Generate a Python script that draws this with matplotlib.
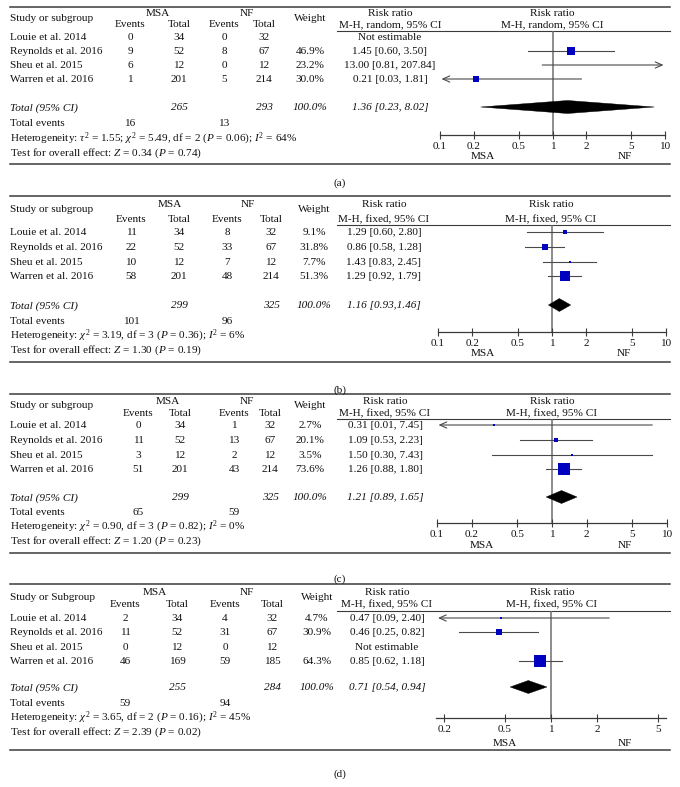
import matplotlib
matplotlib.use('Agg')
import matplotlib.pyplot as plt
from matplotlib.patches import Polygon
from matplotlib.ticker import NullLocator

plt.rcParams['font.family'] = ['Liberation Serif', 'DejaVu Serif']
plt.rcParams['mathtext.fontset'] = 'custom'
plt.rcParams['mathtext.rm'] = 'Liberation Serif'
plt.rcParams['mathtext.it'] = 'Liberation Serif:italic'
plt.rcParams['mathtext.bf'] = 'Liberation Serif:bold'

# ---------------- data ----------------
studies = ["Louie et al. 2014", "Reynolds et al. 2016", "Sheu et al. 2015", "Warren et al. 2016"]

a_msa_events = [0, 9, 6, 1]
a_msa_total = [34, 52, 12, 201]
a_nf_events = [0, 8, 0, 5]
a_nf_total = [32, 67, 12, 214]
a_weight = [None, 46.9, 23.2, 30.0]
a_rr = [None, 1.45, 13.00, 0.21]
a_lo = [None, 0.60, 0.81, 0.03]
a_hi = [None, 3.50, 207.84, 1.81]
a_totals = [265, 293]
a_total_events = [16, 13]
a_pooled = [1.36, 0.23, 8.02]

b_msa_events = [11, 22, 10, 58]
b_msa_total = [34, 52, 12, 201]
b_nf_events = [8, 33, 7, 48]
b_nf_total = [32, 67, 12, 214]
b_weight = [9.1, 31.8, 7.7, 51.3]
b_rr = [1.29, 0.86, 1.43, 1.29]
b_lo = [0.60, 0.58, 0.83, 0.92]
b_hi = [2.80, 1.28, 2.45, 1.79]
b_totals = [299, 325]
b_total_events = [101, 96]
b_pooled = [1.16, 0.93, 1.46]

c_msa_events = [0, 11, 3, 51]
c_msa_total = [34, 52, 12, 201]
c_nf_events = [1, 13, 2, 43]
c_nf_total = [32, 67, 12, 214]
c_weight = [2.7, 20.1, 3.5, 73.6]
c_rr = [0.31, 1.09, 1.50, 1.26]
c_lo = [0.01, 0.53, 0.30, 0.88]
c_hi = [7.45, 2.23, 7.43, 1.80]
c_totals = [299, 325]
c_total_events = [65, 59]
c_pooled = [1.21, 0.89, 1.65]

d_msa_events = [2, 11, 0, 46]
d_msa_total = [34, 52, 12, 169]
d_nf_events = [4, 31, 0, 59]
d_nf_total = [32, 67, 12, 185]
d_weight = [4.7, 30.9, None, 64.3]
d_rr = [0.47, 0.46, None, 0.85]
d_lo = [0.09, 0.25, None, 0.62]
d_hi = [2.40, 0.82, None, 1.18]
d_totals = [255, 284]
d_total_events = [59, 94]
d_pooled = [0.71, 0.54, 0.94]

ticks_abc = [0.1, 0.2, 0.5, 1, 2, 5, 10]
ticklabels_abc = ["0.1", "0.2", "0.5", "1", "2", "5", "10"]
ticks_d = [0.2, 0.5, 1, 2, 5]
ticklabels_d = ["0.2", "0.5", "1", "2", "5"]

het_a = r"Heterogeneity: $\tau^2$ = 1.55; $\chi^2$ = 5.49, df = 2 ($P$ = 0.06); $I^2$ = 64%"
het_b = r"Heterogeneity: $\chi^2$ = 3.19, df = 3 ($P$ = 0.36); $I^2$ = 6%"
het_c = r"Heterogeneity: $\chi^2$ = 0.90, df = 3 ($P$ = 0.82); $I^2$ = 0%"
het_d = r"Heterogeneity: $\chi^2$ = 3.65, df = 2 ($P$ = 0.16); $I^2$ = 45%"
test_a = r"Test for overall effect: $Z$ = 0.34 ($P$ = 0.74)"
test_b = r"Test for overall effect: $Z$ = 1.30 ($P$ = 0.19)"
test_c = r"Test for overall effect: $Z$ = 1.20 ($P$ = 0.23)"
test_d = r"Test for overall effect: $Z$ = 2.39 ($P$ = 0.02)"

panels = [
    dict(label="(a)", study_head="Study or subgroup", method="M-H, random, 95% CI",
         me=a_msa_events, mt=a_msa_total, ne=a_nf_events, nt=a_nf_total, w=a_weight,
         rr=a_rr, lo=a_lo, hi=a_hi, totals=a_totals, tev=a_total_events, pooled=a_pooled,
         psep=", ", het=het_a, test=test_a, ticks=ticks_abc, tlab=ticklabels_abc, xlim=(0.1, 10)),
    dict(label="(b)", study_head="Study or subgroup", method="M-H, fixed, 95% CI",
         me=b_msa_events, mt=b_msa_total, ne=b_nf_events, nt=b_nf_total, w=b_weight,
         rr=b_rr, lo=b_lo, hi=b_hi, totals=b_totals, tev=b_total_events, pooled=b_pooled,
         psep=",", het=het_b, test=test_b, ticks=ticks_abc, tlab=ticklabels_abc, xlim=(0.1, 10)),
    dict(label="(c)", study_head="Study or subgroup", method="M-H, fixed, 95% CI",
         me=c_msa_events, mt=c_msa_total, ne=c_nf_events, nt=c_nf_total, w=c_weight,
         rr=c_rr, lo=c_lo, hi=c_hi, totals=c_totals, tev=c_total_events, pooled=c_pooled,
         psep=", ", het=het_c, test=test_c, ticks=ticks_abc, tlab=ticklabels_abc, xlim=(0.1, 10)),
    dict(label="(d)", study_head="Study or Subgroup", method="M-H, fixed, 95% CI",
         me=d_msa_events, mt=d_msa_total, ne=d_nf_events, nt=d_nf_total, w=d_weight,
         rr=d_rr, lo=d_lo, hi=d_hi, totals=d_totals, tev=d_total_events, pooled=d_pooled,
         psep=", ", het=het_d, test=test_d, ticks=ticks_d, tlab=ticklabels_d, xlim=(0.177, 5.64)),
]

# ---------------- layout (pixel positions; text y = visual centre) ----------------
layouts = [
    dict(top=7, msa=13, study=18, events=24, hrule=31, rows=[37, 51, 65, 79], total=107,
         tevents=123, het=138, test=152, bottom=164, axis=135, side=156, lab=182,
         ev1=130, tot1=179, ev2=224, tot2=264, wt=310, msax=158, nfx=247, rrx=390, fhx=552,
         x0=440, x1=665, msa_side=483, nf_side=625),
    dict(top=196, msa=204, study=209, events=219, hrule=225, rows=[232, 247, 262, 276], total=305,
         tevents=321, het=335, test=349, bottom=362, axis=332, side=353, lab=389,
         ev1=131, tot1=179, ev2=227, tot2=271, wt=314, msax=170, nfx=248, rrx=384, fhx=551,
         x0=438, x1=666, msa_side=483, nf_side=624),
    dict(top=394, msa=401, study=405, events=413, hrule=419, rows=[425, 440, 455, 469], total=497,
         tevents=512, het=526, test=540, bottom=553, axis=523, side=545, lab=578,
         ev1=138, tot1=180, ev2=234, tot2=270, wt=310, msax=168, nfx=247, rrx=385, fhx=552,
         x0=437, x1=667, msa_side=482, nf_side=625),
    dict(top=584, msa=592, study=597, events=604, hrule=611, rows=[618, 632, 647, 661], total=687,
         tevents=703, het=717, test=731, bottom=750, axis=718, side=743, lab=773,
         ev1=125, tot1=177, ev2=225, tot2=272, wt=317, msax=155, nfx=247, rrx=387, fhx=552,
         x0=436, x1=666, msa_side=505, nf_side=625),
]

W, H = 680, 787
fig = plt.figure(figsize=(W / 100, H / 100), dpi=100)
bg = fig.add_axes([0, 0, 1, 1])
bg.set_xlim(0, W)
bg.set_ylim(H, 0)
bg.axis('off')

FS = 8.1
TXT = '#111111'
RULE = '#3a3a3a'
BLUE = '#0000c0'
CI = '#4a4a4a'
BASE = 3.3  # baseline offset below visual centre (px)


def t(x, y, s, ha='center', style='normal'):
    bg.text(x, y + BASE, s, ha=ha, va='baseline', fontsize=FS, color=TXT, style=style)


def draw_panel(p, L):
    # rules
    bg.plot([10, 670], [L['top'], L['top']], color=RULE, lw=1.1)
    bg.plot([337, 670], [L['hrule'], L['hrule']], color=RULE, lw=0.8)
    bg.plot([10, 670], [L['bottom'], L['bottom']], color=RULE, lw=1.1)
    # headers
    t(10, L['study'], p['study_head'], ha='left')
    t(L['msax'], L['msa'], 'MSA')
    t(L['nfx'], L['msa'], 'NF')
    for x in (L['ev1'], L['ev2']):
        t(x, L['events'], 'Events')
    for x in (L['tot1'], L['tot2']):
        t(x, L['events'], 'Total')
    t(L['wt'], L['study'], 'Weight')
    t(L['rrx'], L['msa'], 'Risk ratio')
    t(L['rrx'], L['events'], p['method'])
    t(L['fhx'], L['msa'], 'Risk ratio')
    t(L['fhx'], L['events'], p['method'])
    # study rows
    for i, y in enumerate(L['rows']):
        t(10, y, studies[i], ha='left')
        t(L['ev1'], y, str(p['me'][i]))
        t(L['tot1'], y, str(p['mt'][i]))
        t(L['ev2'], y, str(p['ne'][i]))
        t(L['tot2'], y, str(p['nt'][i]))
        if p['w'][i] is not None:
            t(L['wt'], y, f"{p['w'][i]:.1f}%")
        if p['rr'][i] is None:
            t(L['rrx'], y, 'Not estimable')
        else:
            t(L['rrx'], y, f"{p['rr'][i]:.2f} [{p['lo'][i]:.2f}, {p['hi'][i]:.2f}]")
    # total row
    t(10, L['total'], 'Total (95% CI)', ha='left', style='italic')
    t(L['tot1'], L['total'], str(p['totals'][0]), style='italic')
    t(L['tot2'], L['total'], str(p['totals'][1]), style='italic')
    t(L['wt'], L['total'], '100.0%', style='italic')
    est, plo, phi = p['pooled']
    t(L['rrx'], L['total'], f"{est:.2f} [{plo:.2f}{p['psep']}{phi:.2f}]", style='italic')
    t(10, L['tevents'], 'Total events', ha='left')
    t(L['ev1'], L['tevents'], str(p['tev'][0]))
    t(L['ev2'], L['tevents'], str(p['tev'][1]))
    t(10, L['het'], p['het'], ha='left')
    t(10, L['test'], p['test'], ha='left')
    t(340, L['lab'], p['label'])
    t(L['msa_side'], L['side'], 'MSA')
    t(L['nf_side'], L['side'], 'NF')

    # forest axes
    x0, x1 = L['x0'], L['x1']
    ytop, ybot = L['hrule'], L['axis']
    ax = fig.add_axes([x0 / W, 1 - ybot / H, (x1 - x0) / W, (ybot - ytop) / H])
    ax.patch.set_alpha(0)
    ax.set_xscale('log')
    xl0, xl1 = p['xlim']
    ax.set_xlim(xl0, xl1)
    ax.set_ylim(ybot, ytop)
    for s in ('top', 'left', 'right'):
        ax.spines[s].set_visible(False)
    ax.spines['bottom'].set_color(RULE)
    ax.spines['bottom'].set_linewidth(0.9)
    ax.set_xticks(p['ticks'])
    ax.set_xticklabels(p['tlab'])
    ax.xaxis.set_minor_locator(NullLocator())
    ax.set_yticks([])
    ax.tick_params(axis='x', direction='inout', length=6, width=0.8, labelsize=FS,
                   pad=2.0, colors=RULE, labelcolor=TXT)
    ax.axvline(1, color='#6e6e6e', lw=1.1, zorder=1)

    for i, y in enumerate(L['rows']):
        rr, lo, hi, w = p['rr'][i], p['lo'][i], p['hi'][i], p['w'][i]
        if rr is None:
            continue
        left = max(lo, xl0)
        right = min(hi, xl1)
        arrow = dict(arrowstyle='->,head_length=0.5,head_width=0.22', lw=0.8, color=CI,
                     shrinkA=0, shrinkB=0)
        if lo < xl0 and hi > xl1:
            ax.annotate('', xy=(xl0 * 1.03, y), xytext=(1, y), arrowprops=arrow)
            ax.annotate('', xy=(xl1 / 1.03, y), xytext=(1, y), arrowprops=arrow)
        elif lo < xl0:
            ax.annotate('', xy=(xl0 * 1.03, y), xytext=(right, y), arrowprops=arrow)
        elif hi > xl1:
            ax.annotate('', xy=(xl1 / 1.03, y), xytext=(left, y), arrowprops=arrow)
        else:
            ax.plot([left, right], [y, y], color=CI, lw=0.8, zorder=2)
        side_px = 1.8 + 0.15 * w
        ax.plot([rr], [y], marker='s', ms=side_px * 0.72, color=BLUE, mec=BLUE,
                mew=0, linestyle='none', zorder=3, clip_on=True)

    yd = L['total']
    h = 6.5
    ax.add_patch(Polygon([(plo, yd), (est, yd - h), (phi, yd), (est, yd + h)],
                         closed=True, facecolor='black', edgecolor='black', lw=0.3, zorder=3))


for p, L in zip(panels, layouts):
    draw_panel(p, L)

fig.savefig('out.png', dpi=100)
